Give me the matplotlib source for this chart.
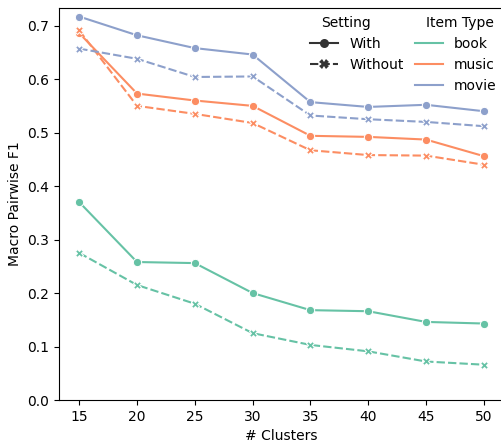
import matplotlib
matplotlib.use('Agg')
import matplotlib.pyplot as plt
from matplotlib.lines import Line2D
from matplotlib.offsetbox import HPacker, DrawingArea
import pandas as pd
import seaborn as sns

clusters = [15, 20, 25, 30, 35, 40, 45, 50]
item_types = ['book', 'music', 'movie']
settings = ['With', 'Without']

book_with = [0.370, 0.258, 0.256, 0.200, 0.168, 0.166, 0.146, 0.143]
book_without = [0.275, 0.215, 0.180, 0.125, 0.103, 0.091, 0.072, 0.066]
music_with = [0.686, 0.573, 0.560, 0.550, 0.494, 0.492, 0.487, 0.456]
music_without = [0.691, 0.550, 0.535, 0.518, 0.467, 0.458, 0.457, 0.440]
movie_with = [0.717, 0.682, 0.658, 0.646, 0.557, 0.548, 0.552, 0.540]
movie_without = [0.657, 0.638, 0.604, 0.605, 0.532, 0.525, 0.520, 0.512]

series = {
    ('book', 'With'): book_with,
    ('book', 'Without'): book_without,
    ('music', 'With'): music_with,
    ('music', 'Without'): music_without,
    ('movie', 'With'): movie_with,
    ('movie', 'Without'): movie_without,
}

rows = []
for (item, setting), vals in series.items():
    for c, v in zip(clusters, vals):
        rows.append({'# Clusters': c, 'Macro Pairwise F1': v,
                     'Item Type': item, 'Setting': setting})
df = pd.DataFrame(rows)

pal = sns.color_palette('Set2', 3)

fig = plt.figure(figsize=(5.01, 4.42), dpi=100)
ax = fig.add_axes([59 / 501, 1 - 400 / 442, 445 / 501, 392 / 442])

sns.lineplot(data=df, x='# Clusters', y='Macro Pairwise F1',
             hue='Item Type', style='Setting', hue_order=item_types,
             style_order=settings, markers=True,
             palette=pal, legend=False, ax=ax)

ax.set_xlim(13.25, 51.75)
ax.set_ylim(0, 0.733)
ax.set_xticks(clusters)

# legend built by hand: Setting column, then Item Type column
blank = Line2D([], [], visible=False)
h = [blank,
     Line2D([], [], color='.2', lw=1.5, marker='o', markersize=6.5, markeredgewidth=0),
     Line2D([], [], color='.2', lw=1.5, ls=(0, (4, 1.5)), marker='X', markersize=6.5,
            markeredgewidth=0),
     blank,
     blank]
h += [Line2D([], [], color=c, lw=1.5) for c in pal]
l = ['Setting'] + settings + ['', 'Item Type'] + item_types
leg = ax.legend(h, l, ncol=2, frameon=False, loc='upper right',
                bbox_to_anchor=(1.012, 1.012), columnspacing=0.85)

# subtitles: drop the handle box so the text sits to the left
for hp in leg.findobj(HPacker):
    kids = hp.get_children()
    if len(kids) == 2 and isinstance(kids[0], DrawingArea):
        if kids[1].get_text() in ('Setting', 'Item Type', ''):
            kids[0].width = 0

fig.savefig('out.png', dpi=100)
